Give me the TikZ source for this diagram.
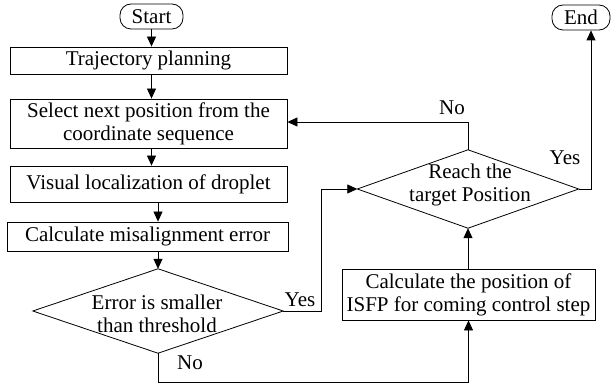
\documentclass[tikz,border=0pt]{standalone}
\usepackage{fontspec}
\setmainfont{Liberation Serif}
\usetikzlibrary{arrows.meta,calc}
\begin{document}
\begin{tikzpicture}[x=1pt,y=-1pt, font=\fontsize{21}{23}\selectfont,
  box/.style={draw, line width=0.8pt, inner sep=0pt, align=center},
  term/.style={draw, line width=0.8pt, rounded corners=11pt, inner sep=0pt},
  arr/.style={line width=0.8pt, -{Triangle[length=10pt,width=9pt]}},
  ln/.style={line width=0.8pt},
  lbl/.style={inner sep=0pt, align=center}]
\useasboundingbox (0,0) rectangle (613,390);
% terminals
\node[term, minimum width=63pt, minimum height=25pt] (start) at (151.5,16.5) {Start};
\node[term, minimum width=58pt, minimum height=25pt] (end) at (581,17.5) {End};
% left column boxes
\node[box, minimum width=277pt, minimum height=27pt] (traj) at (148.5,60.5) {Trajectory planning};
\node[box, minimum width=277pt, minimum height=49pt] (select) at (148.5,123.5) {Select next position from the\\coordinate sequence};
\node[box, minimum width=277pt, minimum height=36pt] (visual) at (148.5,184) {Visual localization of droplet};
\node[box, minimum width=281pt, minimum height=29pt] (calc) at (147.5,236.5) {Calculate misalignment error};
% error diamond
\node[inner sep=0pt, minimum width=250pt, minimum height=84pt] (err) at (158,311) {};
\draw[ln] (err.north) -- (err.east) -- (err.south) -- (err.west) -- cycle;
\node[lbl] (errt) at (157,314) {Error is smaller\\than threshold};
% reach diamond
\node[inner sep=0pt, minimum width=221pt, minimum height=78pt] (reach) at (468,189) {};
\draw[ln] (reach.north) -- (reach.east) -- (reach.south) -- (reach.west) -- cycle;
\node[lbl] (reacht) at (470,185) {Reach the\\target Position};
% position box
\node[box, minimum width=253pt, minimum height=51pt] (pos) at (468.5,294.5) {Calculate the position of\\ISFP for coming control step};
% connectors
\draw[arr] (start.south) -- (start.south |- traj.north);
\draw[arr] (start.south |- traj.south) -- (start.south |- select.north);
\draw[arr] (start.south |- select.south) -- (start.south |- visual.north);
\draw[arr] (err.north |- visual.south) -- (err.north |- calc.north);
\draw[arr] (err.north |- calc.south) -- (err.north);
\coordinate (j1) at (321,311);
\draw[arr] (err.east) -- (j1) |- (reach.west);
\coordinate (j2) at (591,189);
\draw[arr] (reach.east) -- (j2) -- (j2 |- end.south);
\coordinate (j3) at (468,122);
\draw[arr] (reach.north) -- (j3) -- (j3 -| select.east);
\draw[arr] (reach.south |- pos.north) -- (reach.south);
\coordinate (j4) at (158,382);
\draw[arr] (err.south) -- (j4) -| (pos.south);
% labels
\node[lbl] (ny) at (300,300) {Yes};
\node[lbl] (nn) at (190,363) {No};
\node[lbl] (rn) at (452,108) {No};
\node[lbl] (ry) at (565,158) {Yes};
\end{tikzpicture}
\end{document}
